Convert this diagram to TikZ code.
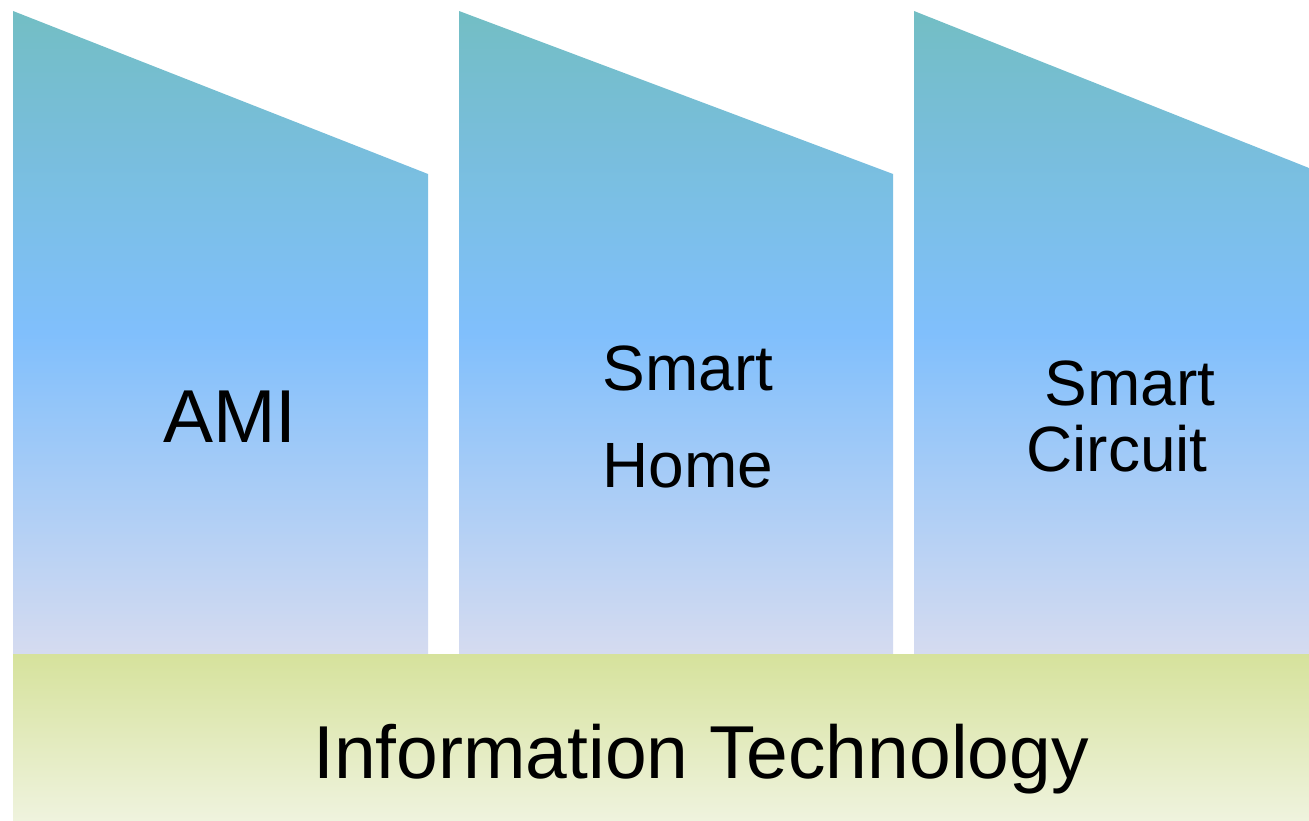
\documentclass[tikz,border=0pt]{standalone}
\usepackage{fontspec}
\setmainfont{Liberation Sans}
\definecolor{pillartop}{RGB}{115,190,196}
\definecolor{pillarmid}{RGB}{128,191,252}
\definecolor{pillarbot}{RGB}{213,219,240}
\definecolor{basetop}{RGB}{214,226,156}
\definecolor{basebot}{RGB}{239,243,222}
\begin{document}
\begin{tikzpicture}
  [
    x=1pt, y=-1pt,
    pillar/.style={top color=pillartop, bottom color=pillarbot, middle color=pillarmid},
    base/.style={top color=basetop, bottom color=basebot},
    label/.style={anchor=base, inner sep=0pt, font=\fontsize{64}{64}\selectfont},
    biglabel/.style={label, font=\fontsize{75}{75}\selectfont}
  ]
  \useasboundingbox (0,0) rectangle (1309,821);
  % pillars
  \shade [pillar] (13,11) -- (428,174) -- (428,654) -- (13,654) -- cycle;
  \shade [pillar] (459,11) -- (893,174) -- (893,654) -- (459,654) -- cycle;
  \shade [pillar] (914,11) -- (1309,168) -- (1309,654) -- (914,654) -- cycle;
  % base
  \shade [base] (13,654) rectangle (1309,821);
  % labels
  \node [biglabel] (ami) at (230,442) {AMI};
  \node [label] (smart2) at (688,390) {Smart};
  \node [label] (home) at (688,487) {Home};
  \node [label] (smart3) at (1130,405) {Smart};
  \node [label] (circuit) at (1117,471) {Circuit};
  \node [biglabel] (it) at (701,778) {Information Technology};
\end{tikzpicture}
\end{document}
